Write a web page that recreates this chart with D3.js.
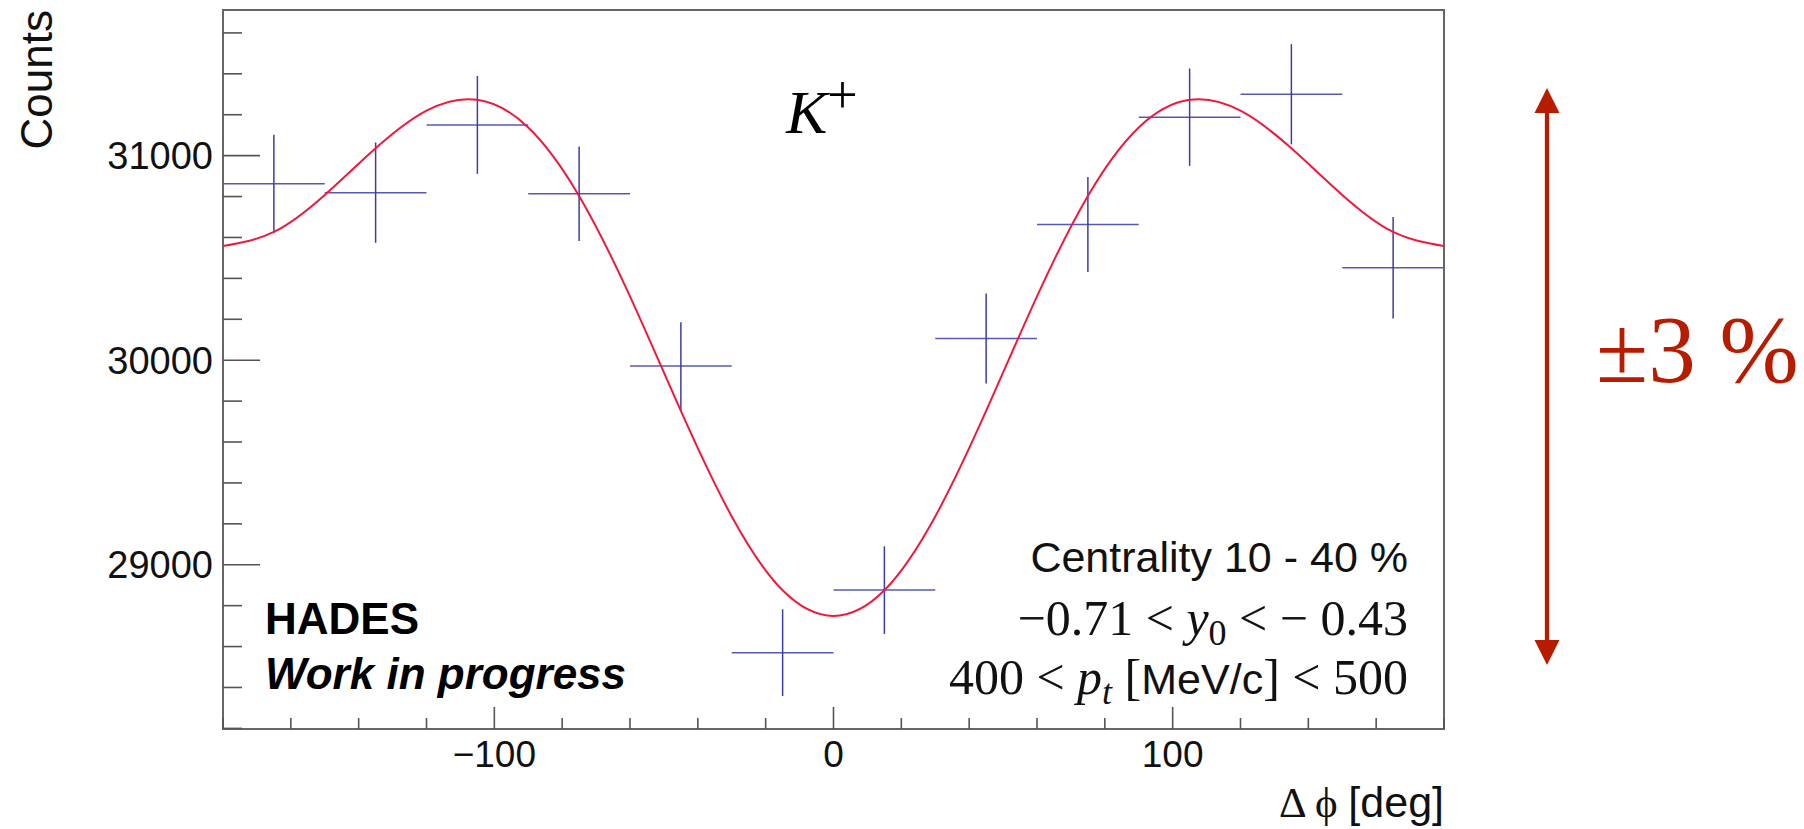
<!DOCTYPE html>
<html>
<head>
<meta charset="utf-8">
<script src="https://cdn.jsdelivr.net/npm/d3@7"></script>
<style>
    html, body { margin: 0; padding: 0; background: #ffffff; }
    svg { display: block; }
    .sans { font-family: "Liberation Sans", Arial, Helvetica, sans-serif; }
    .serif { font-family: "Liberation Serif", "Times New Roman", serif; }
</style>
</head>
<body>
<div class="chart"></div>
<script>
// Histogram bins (Δφ centres, deg), counts and their errors
const binCenters = [-165, -135, -105, -75, -45, -15, 15, 45, 75, 105, 135, 165];
const binHalfWidth = 15;
const counts = [30862, 30819, 31150, 30814, 29971, 28570, 28876, 30106, 30663, 31188, 31300, 30452];
const countErrors = [240, 245, 239, 231, 215, 212, 214, 220, 232, 238, 245, 248];

// Fit curve every 15 deg
const fitPhi = [-180, -165, -150, -135, -120, -105, -90, -75, -60, -45, -30, -15, 0,
    15, 30, 45, 60, 75, 90, 105, 120, 135, 150, 165, 180];
const fitCounts = [30558, 30627, 30808, 31036, 31220, 31273, 31138, 30803, 30312, 29752, 29236, 28875, 28750,
    28875, 29236, 29752, 30312, 30803, 31138, 31273, 31220, 31036, 30808, 30627, 30558];

// Axis ticks
const xMajorTicks = [-100, 0, 100];
const xMinorTicks = d3.range(-180, 181, 20);
const yMajorTicks = [29000, 30000, 31000];
const yMinorTicks = d3.range(28200, 31601, 200);

const width = 1804;
const height = 829;
const frame = { left: 223, right: 1444, top: 10, bottom: 729 };

const svg = d3.select(".chart")
    .append("svg")
    .attr("width", width)
    .attr("height", height);

const x = d3.scaleLinear().domain([-180, 180]).range([frame.left, frame.right]);
const y = d3.scaleLinear().domain([28197, 31712]).range([frame.bottom, frame.top]);

svg.append("defs").append("clipPath")
    .attr("id", "plot-clip")
    .append("rect")
    .attr("x", frame.left)
    .attr("y", frame.top)
    .attr("width", frame.right - frame.left)
    .attr("height", frame.bottom - frame.top);

// Frame
svg.append("rect")
    .attr("x", frame.left)
    .attr("y", frame.top)
    .attr("width", frame.right - frame.left)
    .attr("height", frame.bottom - frame.top)
    .attr("fill", "none")
    .attr("stroke", "#666666")
    .attr("stroke-width", 2);

// Bottom axis: ticks point inward (ROOT style)
const xAxis = svg.append("g")
    .attr("class", "sans")
    .attr("transform", `translate(0,${frame.bottom})`);
xAxis.selectAll("line")
    .data(xMinorTicks)
    .enter()
    .append("line")
    .attr("x1", d => x(d)).attr("x2", d => x(d))
    .attr("y1", 0)
    .attr("y2", d => xMajorTicks.includes(d) ? -22 : -11)
    .attr("stroke", "#555555")
    .attr("stroke-width", 1.6);
xAxis.selectAll("text")
    .data(xMajorTicks)
    .enter()
    .append("text")
    .attr("x", d => x(d))
    .attr("y", 38)
    .attr("text-anchor", "middle")
    .attr("font-size", 37)
    .attr("fill", "#111111")
    .text(d => d3.format("d")(d));

// Left axis
const yAxis = svg.append("g")
    .attr("class", "sans")
    .attr("transform", `translate(${frame.left},0)`);
yAxis.selectAll("line")
    .data(yMinorTicks)
    .enter()
    .append("line")
    .attr("x1", 0)
    .attr("x2", d => yMajorTicks.includes(d) ? 37 : 19)
    .attr("y1", d => y(d)).attr("y2", d => y(d))
    .attr("stroke", "#555555")
    .attr("stroke-width", 1.6);
yAxis.selectAll("text")
    .data(yMajorTicks)
    .enter()
    .append("text")
    .attr("x", -10)
    .attr("y", d => y(d))
    .attr("dy", "0.36em")
    .attr("text-anchor", "end")
    .attr("font-size", 38)
    .attr("fill", "#111111")
    .text(d => d);

// Axis titles
svg.append("text")
    .attr("class", "sans")
    .attr("transform", `translate(52,${frame.top}) rotate(-90)`)
    .attr("text-anchor", "end")
    .attr("font-size", 44)
    .attr("fill", "#111111")
    .text("Counts");

const xTitle = svg.append("text")
    .attr("x", frame.right)
    .attr("y", 817)
    .attr("text-anchor", "end")
    .attr("font-size", 43)
    .attr("fill", "#111111");
xTitle.append("tspan").attr("class", "serif").text("Δ ϕ ");
xTitle.append("tspan").attr("class", "sans").text("[deg]");

const plot = svg.append("g").attr("clip-path", "url(#plot-clip)");

// Data points with error bars
const points = plot.selectAll("g.point")
    .data(binCenters.map((c, i) => ({ phi: c, n: counts[i], err: countErrors[i] })))
    .enter()
    .append("g")
    .attr("class", "point");
points.append("line")
    .attr("x1", d => x(d.phi - binHalfWidth))
    .attr("x2", d => x(d.phi + binHalfWidth))
    .attr("y1", d => y(d.n)).attr("y2", d => y(d.n))
    .attr("stroke", "#5858b4")
    .attr("stroke-width", 1.5);
points.append("line")
    .attr("x1", d => x(d.phi)).attr("x2", d => x(d.phi))
    .attr("y1", d => y(d.n - d.err))
    .attr("y2", d => y(d.n + d.err))
    .attr("stroke", "#3c3ca6")
    .attr("stroke-width", 1.5);

// Fit curve
const fitLine = d3.line()
    .x(d => x(d[0]))
    .y(d => y(d[1]))
    .curve(d3.curveNatural);
plot.append("path")
    .attr("d", fitLine(fitPhi.map((p, i) => [p, fitCounts[i]])))
    .attr("fill", "none")
    .attr("stroke", "#ee1a3c")
    .attr("stroke-width", 2);

// Labels inside the frame
const kLabel = svg.append("text")
    .attr("class", "serif")
    .attr("x", 786)
    .attr("y", 133)
    .attr("fill", "#000000");
kLabel.append("tspan").attr("font-size", 62).attr("font-style", "italic").text("K");
kLabel.append("tspan").attr("font-size", 54).attr("dy", -20).text("+");

svg.append("text")
    .attr("class", "sans")
    .attr("x", 265)
    .attr("y", 634)
    .attr("font-size", 44)
    .attr("font-weight", "bold")
    .attr("fill", "#000000")
    .text("HADES");
svg.append("text")
    .attr("class", "sans")
    .attr("x", 265)
    .attr("y", 689)
    .attr("font-size", 44)
    .attr("font-weight", "bold")
    .attr("font-style", "italic")
    .attr("fill", "#000000")
    .text("Work in progress");

const infoRight = 1408;
svg.append("text")
    .attr("class", "sans")
    .attr("x", infoRight)
    .attr("y", 572)
    .attr("text-anchor", "end")
    .attr("font-size", 43)
    .attr("fill", "#111111")
    .text("Centrality 10 - 40 %");

const rapidity = svg.append("text")
    .attr("class", "serif")
    .attr("x", infoRight)
    .attr("y", 635)
    .attr("text-anchor", "end")
    .attr("font-size", 50)
    .attr("fill", "#111111");
rapidity.append("tspan").text("−0.71 < ");
rapidity.append("tspan").attr("font-style", "italic").text("y");
rapidity.append("tspan").attr("font-size", 36).attr("dy", 10).text("0");
rapidity.append("tspan").attr("dy", -10).text(" < − 0.43");

const momentum = svg.append("text")
    .attr("class", "serif")
    .attr("x", infoRight)
    .attr("y", 694)
    .attr("text-anchor", "end")
    .attr("font-size", 50)
    .attr("fill", "#111111");
momentum.append("tspan").text("400 < ");
momentum.append("tspan").attr("font-style", "italic").text("p");
momentum.append("tspan").attr("font-style", "italic").attr("font-size", 36).attr("dy", 10).text("t");
momentum.append("tspan").attr("dy", -10).text(" [");
momentum.append("tspan").attr("class", "sans").attr("font-size", 43).text("MeV/c");
momentum.append("tspan").text("] < 500");

// ±3 % arrow on the right
const arrowColor = "#b71c00";
const arrowX = 1547;
const arrowTop = 88;
const arrowBottom = 665;
const headLength = 25;
const headHalf = 12.5;
svg.append("line")
    .attr("x1", arrowX).attr("x2", arrowX)
    .attr("y1", arrowTop + headLength - 2)
    .attr("y2", arrowBottom - headLength + 2)
    .attr("stroke", arrowColor)
    .attr("stroke-width", 4.3);
svg.append("path")
    .attr("d", `M${arrowX},${arrowTop} L${arrowX + headHalf},${arrowTop + headLength} L${arrowX - headHalf},${arrowTop + headLength} Z`)
    .attr("fill", arrowColor);
svg.append("path")
    .attr("d", `M${arrowX},${arrowBottom} L${arrowX + headHalf},${arrowBottom - headLength} L${arrowX - headHalf},${arrowBottom - headLength} Z`)
    .attr("fill", arrowColor);
svg.append("text")
    .attr("class", "serif")
    .attr("x", 1596)
    .attr("y", 382)
    .attr("font-size", 95)
    .attr("fill", arrowColor)
    .text("±3 %");
</script>
</body>
</html>
